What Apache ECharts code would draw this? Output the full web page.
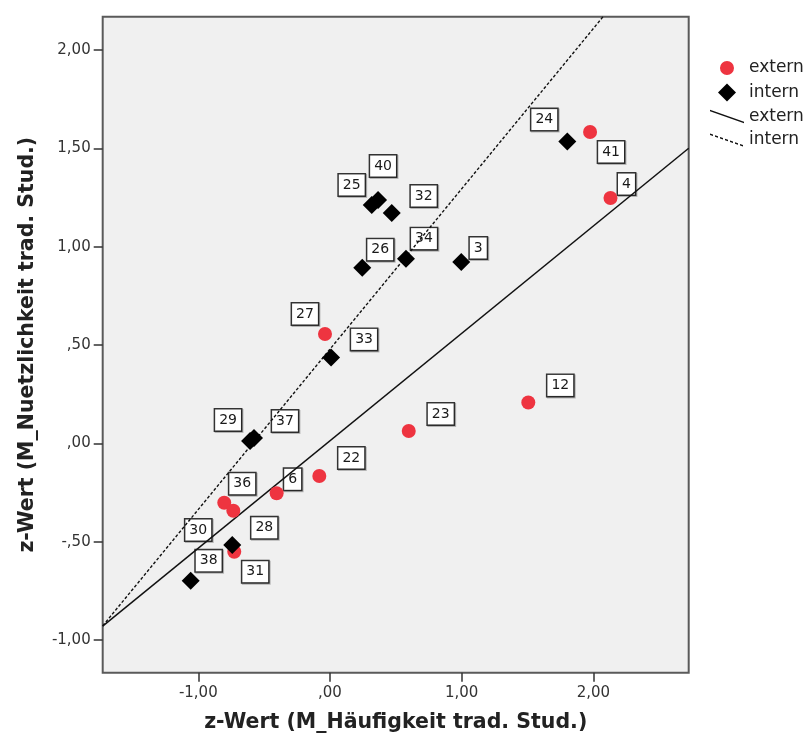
<!DOCTYPE html>
<html>
<head>
<meta charset="utf-8">
<script src="https://cdn.jsdelivr.net/npm/echarts@6.0.0/dist/echarts.min.js"></script>
<style>
  html, body { margin: 0; padding: 0; background: #fff; }
  #chart { width: 812px; height: 738px; }
</style>
</head>
<body>
<div id="chart"></div>
<script>
// Gruppe "extern": Fallnummern und z-Werte
const externIds = [41, 4, 27, 12, 23, 22, 6, 36, 28, 31];
const externX = [1.975, 2.13, -0.038, 1.506, 0.598, -0.081, -0.405, -0.803, -0.734, -0.727];
const externY = [1.583, 1.247, 0.556, 0.208, 0.063, -0.166, -0.254, -0.302, -0.343, -0.551];

// Gruppe "intern": Fallnummern und z-Werte
const internIds = [24, 3, 34, 40, 25, 32, 26, 33, 29, 37, 30, 38];
const internX = [1.802, 0.997, 0.577, 0.365, 0.317, 0.469, 0.245, 0.008, -0.607, -0.577, -0.742, -1.058];
const internY = [1.534, 0.922, 0.939, 1.237, 1.212, 1.171, 0.893, 0.437, 0.012, 0.027, -0.517, -0.699];

// Lineare Anpassung je Gruppe: [Konstante, Steigung]
const externFit = [0.013, 0.546];
const internFit = [0.479, 0.815];

// Achsenbereiche und Teilstriche
const xRange = [-1.726, 2.724];
const yRange = [-1.166, 2.169];
const xTicks = [-1, 0, 1, 2];
const yTicks = [-1, -0.5, 0, 0.5, 1, 1.5, 2];

// Verschiebung der Fallbeschriftungen (Pixel) relativ zum Punkt
const labelOffset = {
  41: [21, 20], 4: [16, -14], 27: [-20, -20], 12: [32, -17], 23: [32, -17],
  22: [32, -18], 6: [16, -14], 36: [18, -19], 28: [31, 17], 31: [21, 20],
  24: [-23, -22], 3: [17, -14], 34: [18, -20], 40: [5, -34], 25: [-20, -20],
  32: [32, -17], 26: [18, -18], 33: [33, -18], 29: [-22, -21], 37: [31, -17],
  30: [-34, -15], 38: [18, -20]
};

const FONT = 'DejaVu Sans';

function fmtDe(v) {
  let s = Math.abs(v).toFixed(2).replace('.', ',');
  if (s.charAt(0) === '0') s = s.slice(1);
  return (v < 0 ? '-' : '') + s;
}

function pts(xs, ys) { return xs.map((x, i) => [x, ys[i]]); }
function fitLine(c) { return xRange.map(x => [x, c[0] + c[1] * x]); }

// Beschriftungen aller Fälle
const labelData = [];
externIds.forEach((id, i) => labelData.push({ value: [externX[i], externY[i], id], label: { offset: labelOffset[id] } }));
internIds.forEach((id, i) => labelData.push({ value: [internX[i], internY[i], id], label: { offset: labelOffset[id] } }));

// Winzige Eckpunkte, damit kleinere Symbole im 18x18-Feld bleiben
const corners = 'M0,0L0.01,0L0,0.01Z M18,18L17.99,18L18,17.99Z';

// Legendensymbole für die Anpassungslinien (schräge Striche)
function slantPath(dashed) {
  const w = 34, h = 12, t = 1.4;
  if (!dashed) return `path://M0,0L${w},${h}L${w},${h + t}L0,${t}Z`;
  let p = 'path://';
  for (let x0 = 0; x0 < w; x0 += 5) {
    const x1 = Math.min(x0 + 3, w);
    const y0 = x0 * h / w, y1 = x1 * h / w;
    p += `M${x0},${y0}L${x1},${y1}L${x1},${y1 + t}L${x0},${y0 + t}Z`;
  }
  p += `M${w},${h}L${w},${h + 0.01}L${w - 0.01},${h}Z`;
  return p;
}

const chart = echarts.init(document.getElementById('chart'), null, { renderer: 'canvas' });

chart.setOption({
  animation: false,
  backgroundColor: '#ffffff',
  textStyle: { fontFamily: FONT },
  grid: {
    left: 102.7, top: 16.7, right: 123.3, bottom: 65.3,
    show: true, backgroundColor: '#f0f0f0', borderColor: '#5a5a5a', borderWidth: 2
  },
  legend: {
    orient: 'vertical',
    left: 710, top: 59, padding: 0,
    itemWidth: 34, itemHeight: 18, itemGap: 6.5,
    textStyle: { fontSize: 17, color: '#222', fontFamily: FONT },
    formatter: name => name.split(' ')[0],
    data: [
      { name: 'extern', icon: 'path://M9,2A7,7,0,1,1,8.99,2Z ' + corners },
      { name: 'intern', icon: 'path://M9,0L18,9L9,18L0,9Z' },
      { name: 'extern Anpassung', icon: slantPath(false) },
      { name: 'intern Anpassung', icon: slantPath(true) }
    ]
  },
  xAxis: {
    type: 'value', min: xRange[0], max: xRange[1],
    name: 'z-Wert (M_Häufigkeit trad. Stud.)',
    nameLocation: 'middle', nameGap: 39,
    nameTextStyle: { fontFamily: FONT, fontWeight: 'bold', fontSize: 20.5, color: '#222' },
    axisLine: { show: false, onZero: false },
    axisTick: { show: true, length: 9, customValues: xTicks, lineStyle: { color: '#333', width: 1.5 } },
    axisLabel: { customValues: xTicks, formatter: fmtDe, margin: 13, fontSize: 15, color: '#333', fontFamily: FONT },
    splitLine: { show: false }
  },
  yAxis: {
    type: 'value', min: yRange[0], max: yRange[1],
    name: 'z-Wert (M_Nuetzlichkeit trad. Stud.)',
    nameLocation: 'middle', nameGap: 65, nameRotate: 90,
    nameTextStyle: { fontFamily: FONT, fontWeight: 'bold', fontSize: 20.5, color: '#222' },
    axisLine: { show: false, onZero: false },
    axisTick: { show: true, length: 9, customValues: yTicks, lineStyle: { color: '#333', width: 1.5 } },
    axisLabel: { customValues: yTicks, formatter: fmtDe, margin: 12, fontSize: 15, color: '#333', fontFamily: FONT },
    splitLine: { show: false }
  },
  series: [
    {
      name: 'Fallnummern', type: 'scatter', z: 1, silent: true,
      symbolSize: 0.1, itemStyle: { color: 'rgba(0,0,0,0)', opacity: 1 },
      data: labelData,
      label: {
        show: true, position: 'inside',
        formatter: p => String(p.value[2]),
        fontFamily: FONT, fontSize: 14, color: '#1a1a1a',
        backgroundColor: '#ffffff', borderColor: '#333333', borderWidth: 1.5,
        padding: [4, 4, 3, 4],
        shadowColor: 'rgba(0,0,0,0.25)', shadowOffsetX: 1, shadowOffsetY: 1, shadowBlur: 0
      }
    },
    {
      name: 'extern Anpassung', type: 'line', z: 2, silent: true,
      data: fitLine(externFit), symbol: 'none', clip: true,
      itemStyle: { color: '#111' },
      lineStyle: { color: '#111', width: 1.5, type: 'solid' }
    },
    {
      name: 'intern Anpassung', type: 'line', z: 2, silent: true,
      data: fitLine(internFit), symbol: 'none', clip: true,
      itemStyle: { color: '#111' },
      lineStyle: { color: '#111', width: 1.4, type: [3, 2] }
    },
    {
      name: 'extern', type: 'scatter', z: 3,
      symbol: 'circle', symbolSize: 14,
      itemStyle: { color: '#ee3440', opacity: 1 },
      data: pts(externX, externY)
    },
    {
      name: 'intern', type: 'scatter', z: 3,
      symbol: 'diamond', symbolSize: 18,
      itemStyle: { color: '#000000', opacity: 1 },
      data: pts(internX, internY)
    }
  ]
});
</script>
</body>
</html>
